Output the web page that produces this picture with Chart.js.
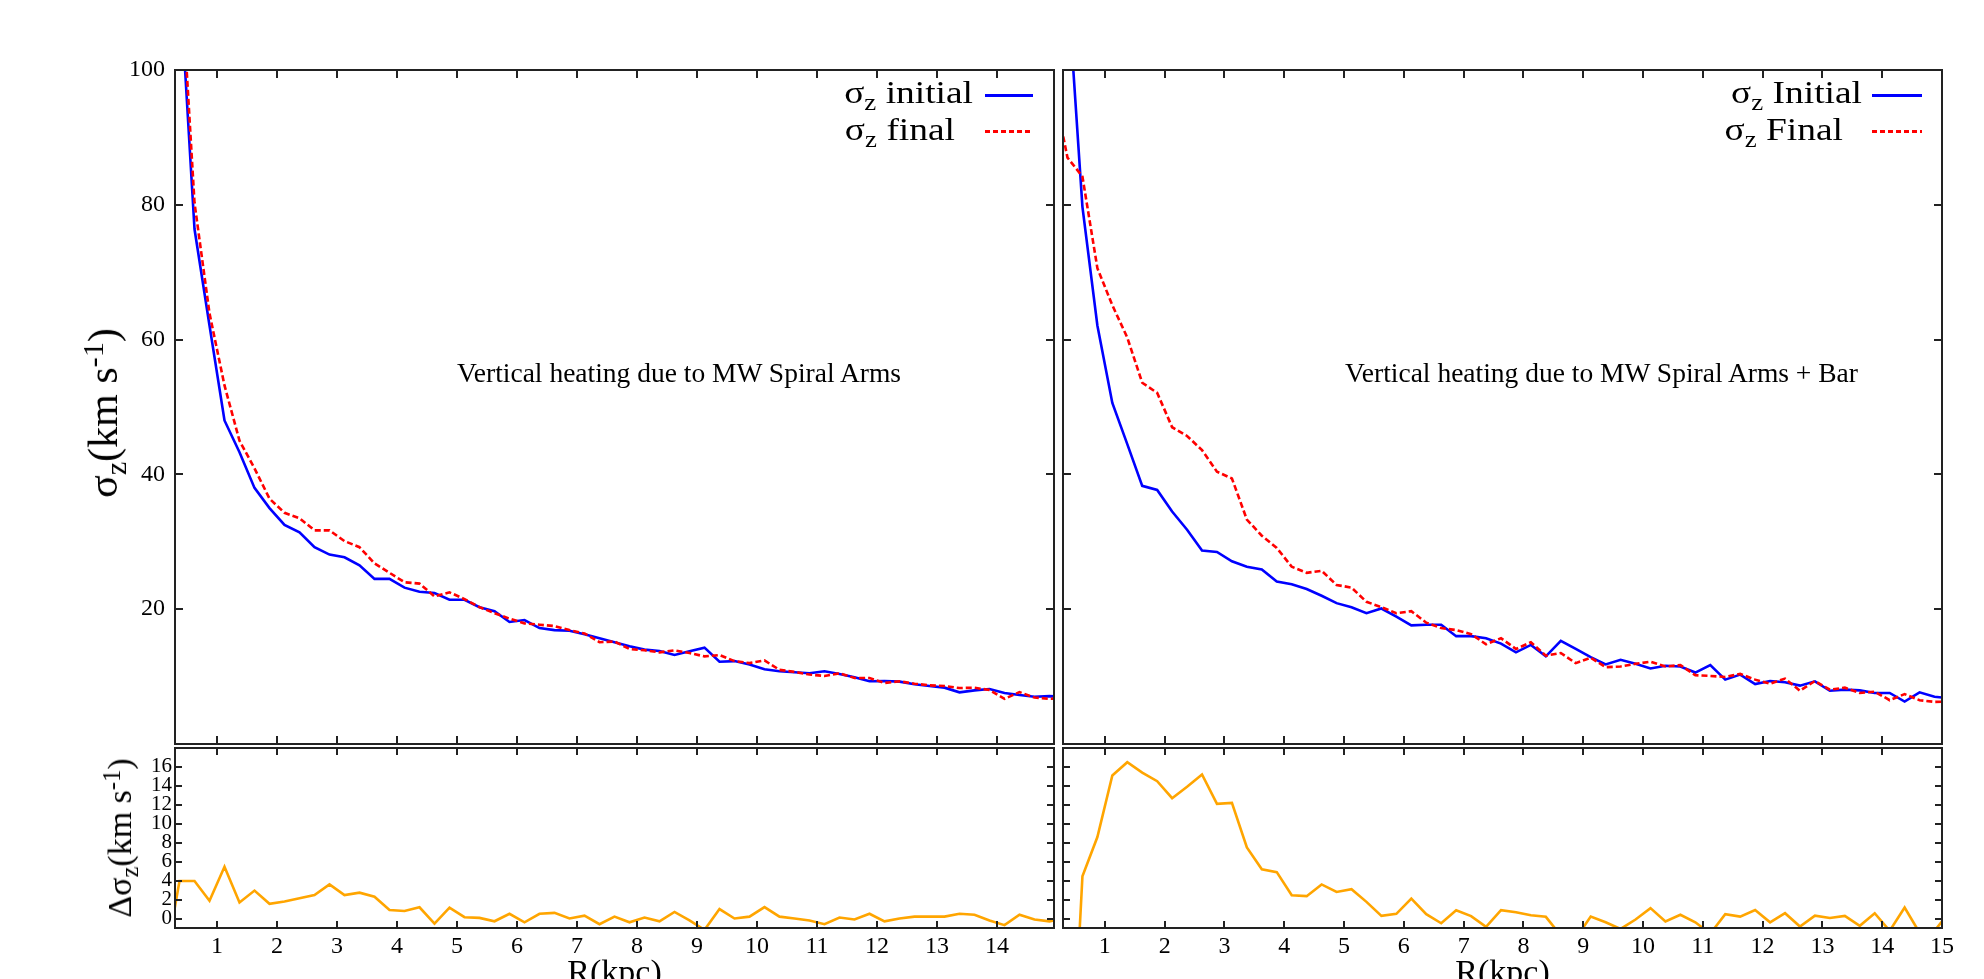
<!DOCTYPE html>
<html>
<head>
<meta charset="utf-8">
<script src="https://cdn.jsdelivr.net/npm/chart.js@4.4.1/dist/chart.umd.min.js"></script>
<style>
  html, body { margin: 0; padding: 0; background: #fff; width: 1984px; height: 979px; overflow: hidden; }
  #wrap { position: relative; width: 1984px; height: 979px; overflow: hidden; }
  canvas { position: absolute; }
  .lbl { position: absolute; font-family: "Liberation Serif", "Times New Roman", serif; color: #000; white-space: nowrap; line-height: 1; }
  .sub { position: relative; top: 0.3em; font-size: 0.72em; }
  .sup { position: relative; top: -0.45em; font-size: 0.72em; }
  .rot { transform: translate(-50%, -50%) rotate(-90deg); }
  .key-text { font-size: 32px; transform-origin: 100% 50%; transform: translateX(-100%) scaleX(1.17); }
  .key { position: absolute; height: 3px; }
</style>
</head>
<body>
<div id="wrap">
  <canvas id="armsTop" width="1058" height="746" style="left:0;top:0"></canvas>
  <canvas id="barTop" width="900" height="746" style="left:1058px;top:0"></canvas>
  <canvas id="armsBottom" width="1058" height="266" style="left:0;top:740px"></canvas>
  <canvas id="barBottom" width="900" height="266" style="left:1058px;top:740px"></canvas>

  <div class="lbl rot" style="left:103px;top:413px;font-size:42px">σ<span class="sub">z</span>(km s<span class="sup">-1</span>)</div>
  <div class="lbl rot" style="left:120px;top:838px;font-size:34px">Δσ<span class="sub">z</span>(km s<span class="sup">-1</span>)</div>

  <div class="lbl key-text" style="left:973px;top:76px">σ<span class="sub">z</span> initial</div>
  <div class="lbl key-text" style="left:955px;top:113px">σ<span class="sub">z</span> final</div>
  <div class="key" style="left:985px;top:94px;width:48px;background:#0000ff"></div>
  <div class="key" style="left:985px;top:130px;width:48px;background:repeating-linear-gradient(to right,#ff0000 0 5px,transparent 5px 8px)"></div>

  <div class="lbl key-text" style="left:1862px;top:76px">σ<span class="sub">z</span> Initial</div>
  <div class="lbl key-text" style="left:1843px;top:113px">σ<span class="sub">z</span> Final</div>
  <div class="key" style="left:1872px;top:94px;width:50px;background:#0000ff"></div>
  <div class="key" style="left:1872px;top:130px;width:50px;background:repeating-linear-gradient(to right,#ff0000 0 5px,transparent 5px 8px)"></div>

  <div class="lbl" style="left:457px;top:359px;font-size:27.5px">Vertical heating due to MW Spiral Arms</div>
  <div class="lbl" style="left:1345px;top:359px;font-size:27.5px">Vertical heating due to MW Spiral Arms + Bar</div>
</div>
<script>
// radial bins (kpc)
const radius = [0.125, 0.375, 0.625, 0.875, 1.125, 1.375, 1.625, 1.875, 2.125, 2.375,
  2.625, 2.875, 3.125, 3.375, 3.625, 3.875, 4.125, 4.375, 4.625, 4.875,
  5.125, 5.375, 5.625, 5.875, 6.125, 6.375, 6.625, 6.875, 7.125, 7.375,
  7.625, 7.875, 8.125, 8.375, 8.625, 8.875, 9.125, 9.375, 9.625, 9.875,
  10.125, 10.375, 10.625, 10.875, 11.125, 11.375, 11.625, 11.875, 12.125, 12.375,
  12.625, 12.875, 13.125, 13.375, 13.625, 13.875, 14.125, 14.375, 14.625, 14.875, 15.125];

// spiral arms only
const sigInitArms = [150, 114, 76.4, 62.1, 48.0, 43.3, 38.0, 35.0, 32.5, 31.4,
  29.2, 28.1, 27.7, 26.5, 24.5, 24.5, 23.2, 22.6, 22.4, 21.4,
  21.4, 20.3, 19.7, 18.1, 18.4, 17.2, 16.9, 16.8, 16.3, 15.7,
  15.1, 14.5, 14.0, 13.8, 13.2, 13.75, 14.3, 12.2, 12.3, 11.8,
  11.1, 10.8, 10.65, 10.5, 10.8, 10.4, 9.9, 9.3, 9.35, 9.25,
  8.86, 8.6, 8.36, 7.67, 7.96, 8.16, 7.57, 7.27, 7.02, 7.1, 7.0];
const sigFinalArms = [145, 118, 80.3, 63.9, 53.2, 45.0, 40.9, 36.4, 34.3, 33.5,
  31.7, 31.7, 30.1, 29.2, 26.8, 25.4, 24.0, 23.8, 21.9, 22.5,
  21.5, 20.3, 19.4, 18.6, 17.9, 17.7, 17.5, 16.9, 16.4, 15.1,
  15.2, 14.1, 13.9, 13.6, 13.9, 13.5, 13.0, 13.2, 12.3, 12.0,
  12.4, 11.0, 10.7, 10.3, 10.1, 10.5, 9.8, 9.8, 9.05, 9.3,
  8.95, 8.7, 8.6, 8.3, 8.35, 8.0, 6.7, 7.7, 6.9, 6.7, 6.8];
const dSigArms = [-5.0, 3.96, 3.96, 1.87, 5.47, 1.69, 2.95, 1.55, 1.8, 2.15,
  2.48, 3.6, 2.48, 2.73, 2.3, 0.9, 0.79, 1.19, -0.54, 1.15,
  0.14, 0.07, -0.29, 0.5, -0.4, 0.5, 0.6, 0.0, 0.3, -0.6,
  0.2, -0.4, 0.1, -0.3, 0.7, -0.2, -1.2, 1.0, 0.0, 0.2,
  1.2, 0.2, 0.0, -0.2, -0.6, 0.1, -0.1, 0.5, -0.3, 0.0,
  0.2, 0.2, 0.2, 0.5, 0.4, -0.2, -0.7, 0.4, -0.1, -0.3, 0.0];

// spiral arms + bar
const sigInitBar = [150, 113, 79.7, 62.1, 50.6, 44.5, 38.3, 37.7, 34.5, 31.8,
  28.7, 28.5, 27.1, 26.3, 25.9, 24.1, 23.7, 23.0, 22.0, 20.9,
  20.3, 19.4, 20.1, 18.9, 17.6, 17.7, 17.7, 16.0, 16.0, 15.7,
  14.9, 13.6, 14.7, 13.0, 15.3, 14.1, 12.9, 11.8, 12.5, 11.9,
  11.2, 11.6, 11.5, 10.6, 11.7, 9.55, 10.3, 8.9, 9.35, 9.15,
  8.66, 9.3, 7.9, 8.06, 7.96, 7.57, 7.57, 6.3, 7.67, 7.0, 6.8];
const sigFinalBar = [98, 87.0, 84.2, 70.6, 65.1, 60.3, 53.6, 52.1, 47.0, 45.7,
  43.6, 40.4, 39.4, 33.3, 30.9, 29.1, 26.3, 25.4, 25.7, 23.6,
  23.2, 21.1, 20.3, 19.4, 19.7, 18.0, 17.2, 16.9, 16.3, 14.8,
  15.7, 14.1, 15.1, 13.1, 13.5, 12.0, 12.8, 11.4, 11.5, 11.9,
  12.2, 11.5, 11.7, 10.2, 10.1, 9.95, 10.4, 9.55, 8.95, 9.7,
  7.9, 9.35, 8.06, 8.36, 7.57, 7.77, 6.5, 7.4, 6.5, 6.25, 6.3];
const dSigBar = [-52, -26, 4.47, 8.6, 15.1, 16.5, 15.4, 14.5, 12.7, 13.9,
  15.2, 12.1, 12.2, 7.5, 5.2, 4.9, 2.46, 2.36, 3.6, 2.8,
  3.1, 1.76, 0.28, 0.5, 2.1, 0.46, -0.5, 0.88, 0.25, -0.88,
  0.88, 0.67, 0.35, 0.18, -1.8, -2.1, 0.2, -0.4, -1.1, -0.1,
  1.1, -0.3, 0.4, -0.4, -1.6, 0.46, 0.2, 0.9, -0.4, 0.56,
  -0.85, 0.3, 0.05, 0.28, -0.77, 0.56, -1.3, 1.16, -1.5, -1.3, 0.7];

const serif = "'Liberation Serif', 'Times New Roman', serif";
Chart.defaults.color = '#000';
Chart.defaults.font.family = serif;

const pts = (ys) => radius.map((r, i) => ({x: r, y: ys[i]}));

// gnuplot style box with inward ticks on all four sides
const frameTicks = {
  id: 'frameTicks',
  afterDatasetsDraw(chart, args, opts) {
    const {ctx, chartArea: a, scales: {x, y}} = chart;
    const len = opts.len || 8;
    ctx.save();
    ctx.strokeStyle = '#222';
    ctx.lineWidth = 2;
    ctx.beginPath();
    x.ticks.forEach(t => {
      const px = Math.round(x.getPixelForValue(t.value));
      ctx.moveTo(px, a.bottom); ctx.lineTo(px, a.bottom - len);
      ctx.moveTo(px, a.top); ctx.lineTo(px, a.top + len);
    });
    y.ticks.forEach(t => {
      const py = Math.round(y.getPixelForValue(t.value));
      ctx.moveTo(a.left, py); ctx.lineTo(a.left + len, py);
      ctx.moveTo(a.right, py); ctx.lineTo(a.right - len, py);
    });
    ctx.stroke();
    ctx.strokeRect(a.left, a.top, a.width, a.height);
    ctx.restore();
  }
};

const keepInts = (s) => { s.ticks = s.ticks.filter(t => Number.isInteger(t.value) && t.value >= 1); };
const noGrid = {display: false, drawTicks: false};
const noPad = (s) => { s.paddingTop = 0; s.paddingBottom = 0; s.paddingLeft = 0; s.paddingRight = 0; };

function xScale(max, showLabels) {
  return {
    type: 'linear', min: 0.3, max: max,
    display: showLabels,
    grid: noGrid, border: {display: false},
    ticks: {stepSize: 1, includeBounds: false, autoSkip: false, maxRotation: 0, padding: 4, font: {size: 24, family: serif}},
    title: {display: showLabels, text: 'R(kpc)', font: {size: 34, family: serif}, padding: {top: 0, bottom: 12}},
    afterBuildTicks: keepInts,
    afterFit: (s) => { if (showLabels) s.height = 78; noPad(s); }
  };
}

function upperPanel(id, initial, final, xMax, showY, pad) {
  new Chart(document.getElementById(id), {
    type: 'line',
    data: {datasets: [
      {data: pts(initial), borderColor: '#0000ff', borderWidth: 2.6, order: 1, clip: 0},
      {data: pts(final), borderColor: '#ff0000', borderWidth: 2.6, borderDash: [6, 3], order: 0, clip: 0}
    ]},
    options: {
      responsive: false, animation: false, events: [],
      layout: {padding: pad},
      elements: {point: {radius: 0}, line: {tension: 0}},
      plugins: {legend: {display: false}, tooltip: {enabled: false}, frameTicks: {len: 8}},
      scales: {
        x: xScale(xMax, false),
        y: {
          min: 0, max: 100, display: showY,
          grid: noGrid, border: {display: false},
          ticks: {stepSize: 20, includeBounds: false, autoSkip: false, padding: 10, font: {size: 24, family: serif}},
          afterBuildTicks: (s) => { s.ticks = s.ticks.filter(t => t.value > 0); },
          afterFit: (s) => { if (showY) s.width = 175; noPad(s); }
        }
      }
    },
    plugins: [frameTicks]
  });
}

function lowerPanel(id, delta, xMax, showY, pad) {
  new Chart(document.getElementById(id), {
    type: 'line',
    data: {datasets: [
      {data: pts(delta), borderColor: '#ffa500', borderWidth: 2.6, clip: 0}
    ]},
    options: {
      responsive: false, animation: false, events: [],
      layout: {padding: pad},
      elements: {point: {radius: 0}, line: {tension: 0}},
      plugins: {legend: {display: false}, tooltip: {enabled: false}, frameTicks: {len: 7}},
      scales: {
        x: xScale(xMax, true),
        y: {
          min: -1, max: 18, display: showY,
          grid: noGrid, border: {display: false},
          ticks: {stepSize: 2, includeBounds: false, autoSkip: false, padding: 3, font: {size: 21, family: serif}},
          afterBuildTicks: (s) => { s.ticks = s.ticks.filter(t => t.value >= 0 && t.value <= 16); },
          afterFit: (s) => { if (showY) s.width = 175; noPad(s); }
        }
      }
    },
    plugins: [frameTicks]
  });
}

upperPanel('armsTop', sigInitArms, sigFinalArms, 14.95, true, {top: 70, right: 4, bottom: 2, left: 0});
upperPanel('barTop', sigInitBar, sigFinalBar, 15, false, {top: 70, right: 16, bottom: 2, left: 5});
lowerPanel('armsBottom', dSigArms, 14.95, true, {top: 8, right: 4, bottom: 0, left: 0});
lowerPanel('barBottom', dSigBar, 15, false, {top: 8, right: 16, bottom: 0, left: 5});
</script>
</body>
</html>
